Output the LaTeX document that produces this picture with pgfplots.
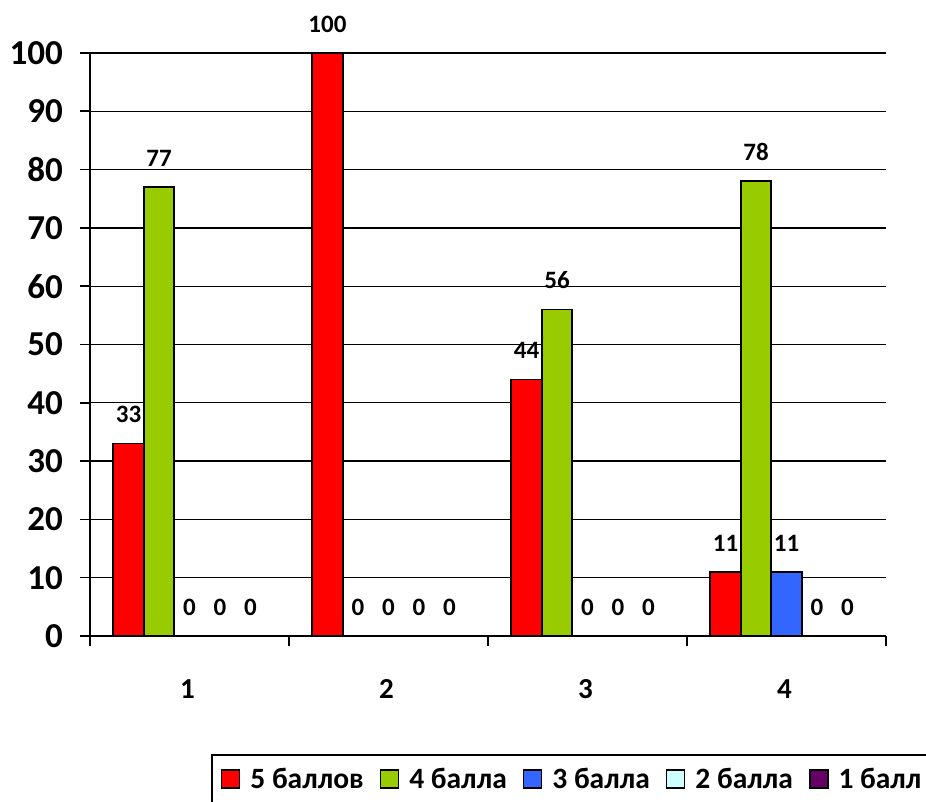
\documentclass[border=0pt]{standalone}
\usepackage{pgfplots}
\pgfplotsset{compat=1.18}
\usepackage{fontspec}
\setmainfont{Carlito}
\definecolor{cRed}{HTML}{FF0000}
\definecolor{cGreen}{HTML}{99CC00}
\definecolor{cBlue}{HTML}{3366FF}
\definecolor{cCyan}{HTML}{CCFFFF}
\definecolor{cPurple}{HTML}{660066}
\begin{document}
\begin{tikzpicture}[x=1pt,y=1pt]
\path[use as bounding box] (0,0) rectangle (926,802);
\begin{axis}[
  at={(90pt,166pt)}, anchor=south west,
  scale only axis, width=796pt, height=583pt,
  xmin=0.5, xmax=4.5, ymin=0, ymax=100,
  ybar, bar width=30.5pt,
  clip=false,
  axis x line*=bottom, axis y line*=left,
  axis line style={line width=1.6pt, -},
  xtick={0.5,1.5,2.5,3.5,4.5},
  xticklabels={1,2,3,4},
  x tick label as interval,
  ytick={0,10,...,100},
  ymajorgrids, grid style={black, line width=1.3pt},
  tick align=outside, major tick length=10pt,
  tick style={black, line width=1.6pt},
  /pgf/number format/assume math mode=true,
  yticklabel style={font=\bfseries\fontsize{35}{35}\selectfont, anchor=east, inner sep=0pt, xshift=-17pt},
  xticklabel style={font=\bfseries\fontsize{29}{29}\selectfont, anchor=north, yshift=-30pt, xshift=-2pt},
  every node near coord/.append style={font=\bfseries\fontsize{25}{25}\selectfont, anchor=south, inner sep=0pt, yshift=20pt, black},
  nodes near coords,
  legend style={at={(0.152,-0.2024)}, anchor=north west, draw=black, line width=1.6pt,
    font=\bfseries\fontsize{29.5}{29.5}\selectfont,
    inner xsep=9pt, inner ysep=12pt,
    nodes={inner xsep=0pt, inner ysep=1pt},
    /tikz/every odd column/.append style={column sep=10pt},
    /tikz/every even column/.append style={column sep=16pt}},
  legend columns=-1,
  legend image code/.code={\draw[#1, draw=black, line width=1.6pt] (0pt,-9pt) rectangle (18pt,9pt);},
]
\addplot[fill=cRed, draw=black, line width=1.6pt, bar shift=-61pt] coordinates {(1,33) (2,100) (3,44) (4,11)};
\addplot[fill=cGreen, draw=black, line width=1.6pt, bar shift=-30.5pt] coordinates {(1,77) (2,0) (3,56) (4,78)};
\addplot[fill=cBlue, draw=black, line width=1.6pt, bar shift=0pt] coordinates {(1,0) (2,0) (3,0) (4,11)};
\addplot[fill=cCyan, draw=black, line width=1.6pt, bar shift=30.5pt] coordinates {(1,0) (2,0) (3,0) (4,0)};
\addplot[fill=cPurple, draw=black, line width=1.6pt, bar shift=61pt] coordinates {(1,0) (2,0) (3,0) (4,0)};
\legend{5 баллов, 4 балла, 3 балла, 2 балла, 1 балл}
\end{axis}
\end{tikzpicture}
\end{document}
